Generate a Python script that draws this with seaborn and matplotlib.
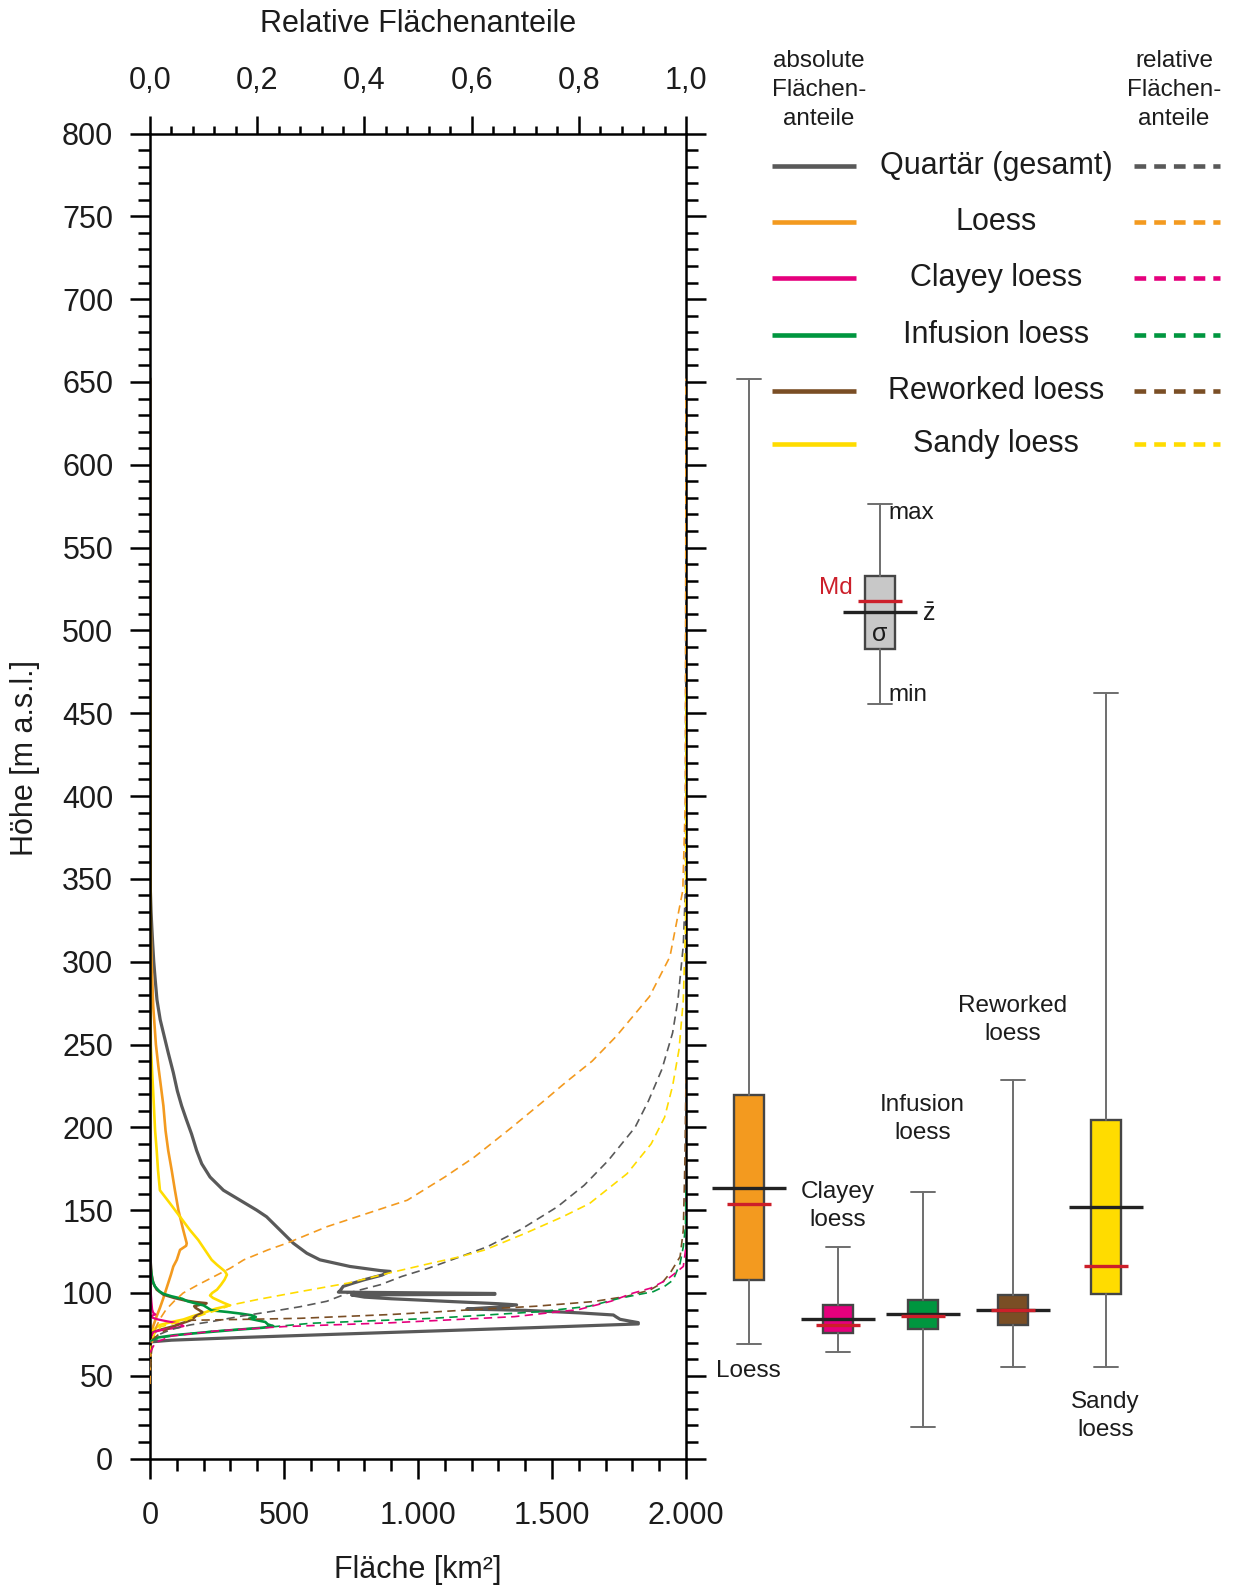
import matplotlib
matplotlib.use("Agg")
import matplotlib.pyplot as plt
from matplotlib.lines import Line2D
from matplotlib.ticker import MultipleLocator, FuncFormatter
import seaborn as sns

# ---------------------------------------------------------------------------
# Absolute area per elevation step (elevation in m a.s.l., area in km²)
# ---------------------------------------------------------------------------
quartaer_elev = [652, 500, 400, 345, 330, 320, 311, 300, 290, 277, 265, 257, 245, 233, 222, 213,
                 205, 196, 186, 178, 170, 162, 156, 150, 146, 138, 130, 124, 120, 116, 113.5,
                 113, 112, 110.8, 108, 106, 104, 101.5, 100.5, 99.7, 99.2, 98.8, 97.5, 96.5, 95,
                 93.5, 92.8, 91.5, 90.3, 89.5, 88, 86.7, 85.5, 84.1, 83, 82.1, 81.3, 79, 77, 75,
                 73, 71.5, 70.5, 70]
quartaer_area = [0, 0, 0, 1, 4, 7, 10, 14, 19, 26, 38, 50, 68, 87, 102, 118,
                 135, 155, 174, 193, 224, 274, 336, 398, 435, 485, 535, 585, 634, 746, 860,
                 896, 880, 866, 800, 759, 721, 710, 703, 1287, 1287, 752, 800, 900, 1100,
                 1300, 1368, 1300, 1182, 1400, 1600, 1729, 1740, 1754, 1790, 1822, 1822, 1420, 1050, 680,
                 320, 80, 5, 0]

loess_elev = [652, 500, 400, 340, 320, 300, 273, 250, 237, 213, 198, 186, 174, 162, 150,
              138, 130, 128.5, 126, 120, 116, 111, 106, 101, 96, 91, 86, 80, 76, 73, 69]
loess_area = [0, 0.5, 1, 2, 3, 6, 12, 22, 31, 50, 58, 68, 81, 93, 106,
              124, 137, 135, 112, 100, 87, 78, 68, 58, 48, 37, 25, 12, 6, 3, 0]

clayey_elev = [128, 120, 110, 100, 95, 90, 88, 87, 86.5, 86, 85, 84, 83, 82, 81, 80, 79, 78,
               77, 76, 74, 72, 70, 67, 64]
clayey_area = [0, 1, 2, 3, 5, 8, 12, 20, 10, 6, 10, 30, 60, 95, 115, 125, 100, 55,
               25, 12, 5, 3, 2, 1, 0]

infusion_elev = [135, 125, 115, 108, 104, 101, 99.5, 98, 96.5, 95, 93.5, 92.5, 91, 89.5, 88.5,
                 87.5, 86.5, 85.5, 84.5, 83.5, 82.5, 81, 80, 79, 77.5, 76, 74.5, 73, 72, 71]
infusion_area = [0, 1, 3, 8, 18, 35, 50, 80, 120, 140, 175, 200, 215, 230, 290,
                 340, 380, 395, 370, 400, 430, 440, 460, 420, 300, 190, 90, 25, 5, 0]

reworked_elev = [229, 180, 150, 120, 112, 106, 102, 99, 97, 95.5, 94.5, 93.8, 93, 92, 91, 90,
                 88.5, 87.5, 86, 84.7, 83.5, 82.7, 81.5, 80, 78.5, 77.7, 76.5, 75.6, 74, 72, 70, 55]
reworked_area = [0, 0.3, 0.5, 2, 5, 12, 25, 50, 90, 130, 170, 211, 190, 165, 170, 180,
                 195, 190, 170, 162, 150, 137, 115, 90, 55, 37, 15, 6, 3, 1, 0.3, 0]

sandy_elev = [462, 400, 350, 300, 270, 249, 221, 198, 186, 174, 162, 154, 146, 138, 132,
              126, 120, 117, 113, 111, 108, 105, 102, 100, 98.5, 97, 95.5, 94, 92.5, 90.5,
              88, 86, 84, 82.7, 80.7, 78, 76, 73, 70, 55]
sandy_area = [0, 0.3, 0.5, 1, 2, 3, 12, 19, 25, 30, 37, 75, 112, 149, 180,
              205, 230, 250, 280, 287, 278, 265, 250, 232, 224, 235, 255, 275, 298, 245,
              200, 160, 125, 87, 37, 15, 6, 3, 1, 0]

# ---------------------------------------------------------------------------
# Relative cumulative area share below each elevation (0 ... 1)
# ---------------------------------------------------------------------------
quartaer_rel_elev = [70, 74, 78, 80.7, 83, 86, 89, 91.7, 95, 100, 105, 110, 115, 122, 128,
                     138, 152, 165, 180, 200, 216, 235, 257, 277, 310, 345, 652]
quartaer_rel = [0, 0.01, 0.04, 0.075, 0.12, 0.17, 0.23, 0.28, 0.33, 0.37, 0.43, 0.47, 0.52,
                0.58, 0.63, 0.69, 0.76, 0.81, 0.855, 0.905, 0.93, 0.955, 0.975, 0.985, 0.995,
                0.999, 1.0]

loess_rel_elev = [45, 60, 70, 80, 85, 90, 95, 100, 105, 110, 115, 120, 126, 130, 140, 156,
                  170, 182, 200, 216, 227, 240, 255, 279, 303, 343, 400, 652]
loess_rel = [0, 0.001, 0.004, 0.012, 0.02, 0.03, 0.045, 0.062, 0.09, 0.12, 0.15, 0.175, 0.22,
             0.255, 0.33, 0.48, 0.55, 0.605, 0.675, 0.735, 0.775, 0.825, 0.87, 0.932, 0.97,
             0.994, 0.999, 1.0]

clayey_rel_elev = [64, 70, 74, 77, 79.7, 82, 85.7, 90, 95, 99.8, 103, 107.8, 112, 116, 128]
clayey_rel = [0, 0.01, 0.04, 0.12, 0.25, 0.45, 0.68, 0.8, 0.86, 0.9, 0.935, 0.963, 0.98,
              0.995, 1.0]

infusion_rel_elev = [71, 73, 75, 77, 79.3, 81.7, 84.7, 88.7, 92, 96.8, 100.8, 104, 107.8,
                     117.9, 128, 140, 162]
infusion_rel = [0, 0.02, 0.06, 0.12, 0.22, 0.3, 0.528, 0.727, 0.82, 0.876, 0.939, 0.96,
                0.976, 0.989, 0.995, 0.999, 1.0]

reworked_rel_elev = [55, 72, 76, 80, 83.5, 84.2, 84.7, 87, 89.7, 92, 94.8, 98, 101.8, 106,
                     111.8, 121.9, 138, 180, 229]
reworked_rel = [0, 0.005, 0.02, 0.045, 0.075, 0.2, 0.28, 0.45, 0.591, 0.72, 0.827, 0.89,
                0.933, 0.955, 0.97, 0.989, 0.995, 0.998, 1.0]

sandy_rel_elev = [55, 70, 75, 79.6, 83.7, 87, 90, 92.7, 96, 100.8, 106, 112.2, 118, 122, 126,
                  136, 146, 154, 172, 190, 206, 225, 247, 277, 320, 400, 462]
sandy_rel = [0, 0.002, 0.008, 0.02, 0.07, 0.1, 0.13, 0.151, 0.2, 0.28, 0.37, 0.448, 0.525,
             0.58, 0.625, 0.70, 0.77, 0.82, 0.89, 0.935, 0.96, 0.975, 0.987, 0.995, 0.999,
             1.0, 1.0]

# ---------------------------------------------------------------------------
# Elevation statistics per loess type: mean, standard deviation, median, min, max
# ---------------------------------------------------------------------------
box_names = ["Loess", "Clayey\nloess", "Infusion\nloess", "Reworked\nloess", "Sandy\nloess"]
box_mean = [163.6, 84.3, 87.0, 89.6, 152.0]
box_sd = [55.8, 8.7, 8.95, 9.2, 52.6]
box_median = [154.0, 80.7, 85.8, 89.6, 116.4]
box_min = [69.2, 64.6, 19.3, 55.0, 55.0]
box_max = [652.0, 127.6, 161.1, 228.8, 462.0]

# schematic explanation box (mean, sd, median, min, max)
key_mean, key_sd, key_median, key_min, key_max = 511.0, 22.0, 518.0, 455.5, 576.5

legend_names = ["Quartär (gesamt)", "Loess", "Clayey loess", "Infusion loess",
                "Reworked loess", "Sandy loess"]

# ---------------------------------------------------------------------------
GREY, ORANGE, PINK = "#595959", "#f39a1f", "#e5007d"
GREEN, BROWN, YELLOW = "#00963f", "#7a4e25", "#ffdc00"
line_colors = [GREY, ORANGE, PINK, GREEN, BROWN, YELLOW]
box_colors = [ORANGE, PINK, GREEN, BROWN, YELLOW]
MEDIAN_RED = "#cc1f2a"
TEXT = "#1c1c1c"

sns.set_theme(style="white")
plt.rcParams["font.family"] = ["Liberation Sans", "DejaVu Sans"]
plt.rcParams["mathtext.fontset"] = "custom"
plt.rcParams["mathtext.rm"] = "Liberation Sans"
plt.rcParams["mathtext.it"] = "Liberation Sans:italic"
plt.rcParams["text.color"] = TEXT
plt.rcParams["axes.edgecolor"] = "black"
plt.rcParams["xtick.color"] = "black"
plt.rcParams["ytick.color"] = "black"
plt.rcParams["xtick.labelcolor"] = TEXT
plt.rcParams["ytick.labelcolor"] = TEXT

W, H = 1234, 1586
fig = plt.figure(figsize=(W / 100, H / 100), dpi=100, facecolor="white")


def fx(px):
    return px / W


def fy(py):
    return 1 - py / H


AX_L, AX_R, AX_T, AX_B = 150, 686, 133.5, 1458.6
ax = fig.add_axes([fx(AX_L), fy(AX_B), (AX_R - AX_L) / W, (AX_B - AX_T) / H])
ax.set_facecolor("white")
axr = ax.twiny()

abs_series = [
    (quartaer_elev, quartaer_area, GREY, 2.3),
    (loess_elev, loess_area, ORANGE, 1.9),
    (sandy_elev, sandy_area, YELLOW, 1.9),
    (reworked_elev, reworked_area, BROWN, 1.9),
    (infusion_elev, infusion_area, GREEN, 1.9),
    (clayey_elev, clayey_area, PINK, 1.6),
]
rel_series = [
    (quartaer_rel_elev, quartaer_rel, GREY),
    (loess_rel_elev, loess_rel, ORANGE),
    (sandy_rel_elev, sandy_rel, YELLOW),
    (reworked_rel_elev, reworked_rel, BROWN),
    (infusion_rel_elev, infusion_rel, GREEN),
    (clayey_rel_elev, clayey_rel, PINK),
]

# absolute areas on the bottom scale, cumulative shares on the top scale
for elev, area, col, lw in abs_series:
    sns.lineplot(x=area, y=elev, sort=False, estimator=None, color=col, lw=lw, ax=ax)
for elev, rel, col in rel_series:
    sns.lineplot(x=rel, y=elev, sort=False, estimator=None, color=col, lw=1.2,
                 linestyle=(0, (5, 3.2)), ax=axr)

ax.set_xlim(0, 2000)
ax.set_ylim(0, 800)
axr.set_xlim(0, 1)
ax.set_xlabel("")
ax.set_ylabel("")
axr.set_xlabel("")

ax.xaxis.set_major_locator(MultipleLocator(500))
ax.xaxis.set_minor_locator(MultipleLocator(100))
ax.yaxis.set_major_locator(MultipleLocator(50))
ax.yaxis.set_minor_locator(MultipleLocator(10))
axr.xaxis.set_major_locator(MultipleLocator(0.2))
axr.xaxis.set_minor_locator(MultipleLocator(0.04))
ax.xaxis.set_major_formatter(FuncFormatter(lambda v, p: f"{int(round(v)):,}".replace(",", ".")))
ax.yaxis.set_major_formatter(FuncFormatter(lambda v, p: f"{int(round(v))}"))
axr.xaxis.set_major_formatter(FuncFormatter(lambda v, p: f"{v:.1f}".replace(".", ",")))

ax.tick_params(axis="x", which="both", bottom=True, top=False, direction="out", width=1.8)
ax.tick_params(axis="x", which="major", length=14.4, labelsize=22, pad=16)
ax.tick_params(axis="x", which="minor", length=8.6)
ax.tick_params(axis="y", which="both", left=True, right=True, labelright=False,
               direction="out", width=1.8)
ax.tick_params(axis="y", which="major", length=14.4, labelsize=22, pad=12)
ax.tick_params(axis="y", which="minor", length=8.6)
axr.tick_params(axis="x", which="both", top=True, bottom=False, direction="out", width=1.8)
axr.tick_params(axis="x", which="major", length=13, labelsize=22, pad=14)
axr.tick_params(axis="x", which="minor", length=5.5)
for s in ax.spines.values():
    s.set_visible(True)
    s.set_linewidth(1.8)
    s.set_color("black")
for s in axr.spines.values():
    s.set_visible(False)

# axis titles
fig.text(fx(418), fy(24), "Relative Flächenanteile", ha="center", va="center", fontsize=22)
fig.text(fx(418), fy(1570), "Fläche [km²]", ha="center", va="center", fontsize=22)
fig.text(fx(25), fy(758), "Höhe [m a.s.l.]", ha="center", va="center", fontsize=22,
         rotation=90)

# ---------------------------------------------------------------------------
# Legend
# ---------------------------------------------------------------------------
fig.text(fx(819), fy(90), "absolute\nFlächen-\nanteile", ha="center", va="center",
         fontsize=17.5, linespacing=1.42)
fig.text(fx(1174), fy(90), "relative\nFlächen-\nanteile", ha="center", va="center",
         fontsize=17.5, linespacing=1.42)
legend_rows = [166, 222.3, 278.3, 335, 391, 444]
for name, col, yy in zip(legend_names, line_colors, legend_rows):
    fig.add_artist(Line2D([fx(772), fx(856)], [fy(yy), fy(yy)], color=col, lw=3.3,
                          solid_capstyle="butt", transform=fig.transFigure))
    fig.add_artist(Line2D([fx(1134), fx(1220)], [fy(yy), fy(yy)], color=col, lw=3.3,
                          linestyle=(0, (2.55, 1.75)), dash_capstyle="butt",
                          transform=fig.transFigure))
    fig.text(fx(996), fy(yy), name, ha="center", va="center", fontsize=22)

# ---------------------------------------------------------------------------
# Elevation statistics boxes, sharing the elevation scale of the main axes
# ---------------------------------------------------------------------------
bx = fig.add_axes([fx(700), fy(AX_B), (W - 700) / W, (AX_B - AX_T) / H])
bx.set_xlim(700, W)
bx.set_ylim(0, 800)
bx.axis("off")
bx.patch.set_visible(False)

box_pos = [748.5, 837.5, 922.5, 1012.5, 1105.6]
key_pos = 880

stats = []
for m, sd, med, lo, hi in zip(box_mean, box_sd, box_median, box_min, box_max):
    stats.append(dict(med=med, q1=m - sd, q3=m + sd, whislo=lo, whishi=hi, fliers=[]))
stats.append(dict(med=key_median, q1=key_mean - key_sd, q3=key_mean + key_sd,
                  whislo=key_min, whishi=key_max, fliers=[]))
positions = box_pos + [key_pos]
bp = bx.bxp(stats, positions=positions, widths=30, capwidths=24, patch_artist=True,
            showfliers=False,
            boxprops=dict(edgecolor="#454545", linewidth=1.7),
            whiskerprops=dict(color="#6e6e6e", linewidth=1.4),
            capprops=dict(color="#6e6e6e", linewidth=1.4),
            medianprops=dict(visible=False))
for patch, col in zip(bp["boxes"], box_colors + ["#c8c8c8"]):
    patch.set_facecolor(col)

# mean (black) and median (red) markers across each box
means = box_mean + [key_mean]
medians = box_median + [key_median]
for p, m, med in zip(positions, means, medians):
    bx.hlines(m, p - 37, p + 37, color="#222222", lw=2.4, zorder=4)
    bx.hlines(med, p - 22, p + 22, color=MEDIAN_RED, lw=2.4, zorder=5)

box_label_xy = [(748.5, 1371), (837.5, 1206), (922.5, 1119), (1012.5, 1020), (1105.6, 1416)]
for name, (tx, ty) in zip(box_names, box_label_xy):
    fig.text(fx(tx), fy(ty), name, ha="center", va="center", fontsize=17.5, linespacing=1.36)

# explanation labels of the schematic box
fig.text(fx(888), fy(513), "max", ha="left", va="center", fontsize=17.5)
fig.text(fx(888), fy(695), "min", ha="left", va="center", fontsize=17.5)
fig.text(fx(853), fy(588), "Md", ha="right", va="center", fontsize=17.5, color=MEDIAN_RED)
fig.text(fx(922), fy(614), r"$\bar{\mathrm{z}}$", ha="left", va="center", fontsize=18)
fig.text(fx(880), fy(634), "σ", ha="center", va="center", fontsize=18)

fig.savefig("out.png", dpi=100, facecolor="white")
